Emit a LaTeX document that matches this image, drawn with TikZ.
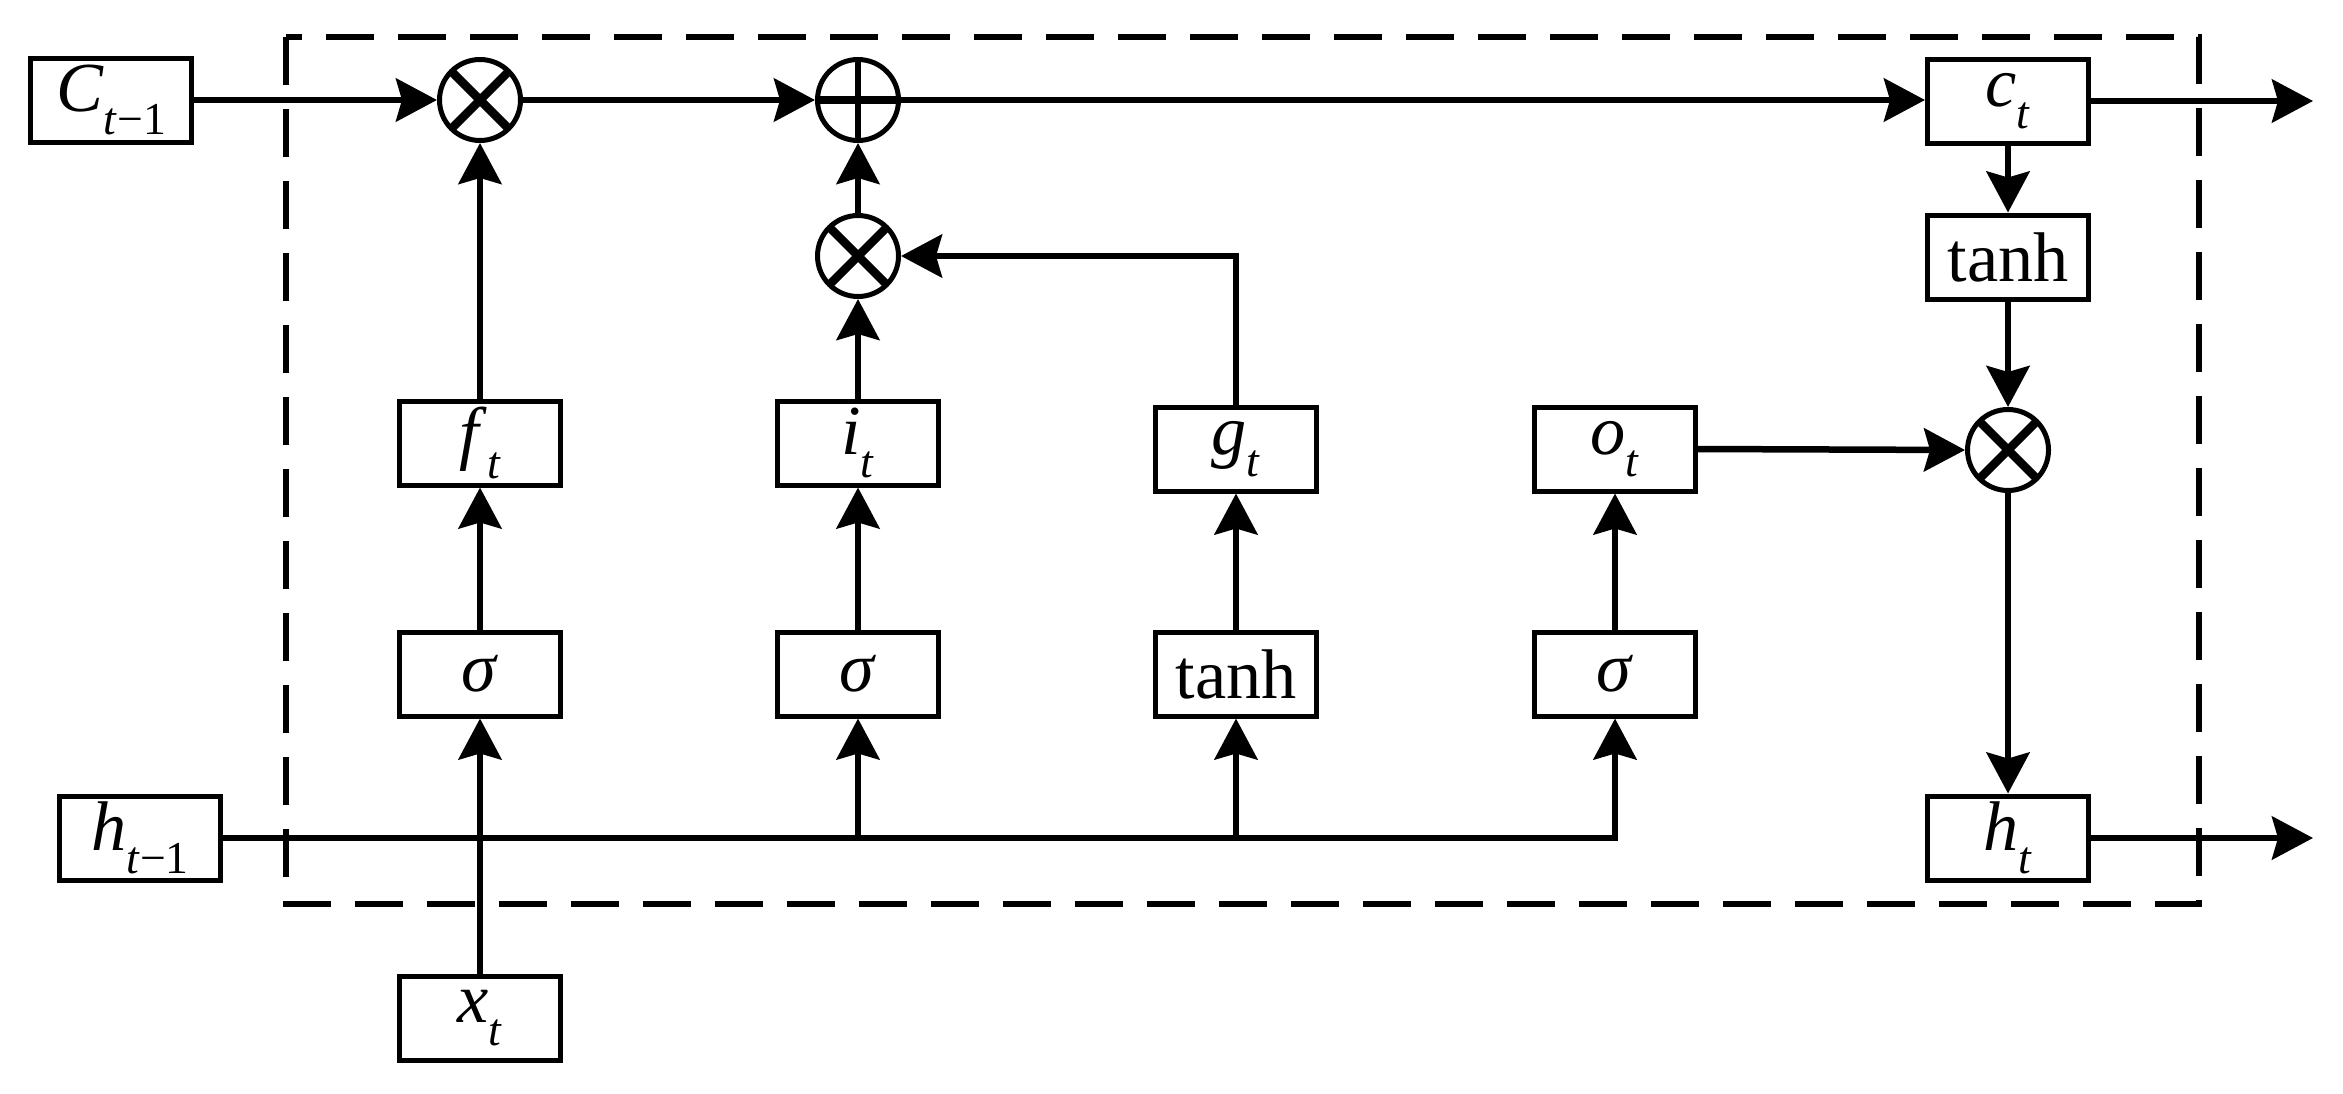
\documentclass[tikz,border=0pt]{standalone}
\usepackage{fontspec}
\setmainfont{Liberation Serif}
\usetikzlibrary{arrows.meta}
\newcommand{\lbl}[2]{\textit{#1}\raisebox{-0.32em}{\fontsize{13}{13}\selectfont #2}}
\begin{document}
\begin{tikzpicture}[x=0.1mm,y=-0.1mm,
  box/.style={draw,line width=0.5mm,minimum width=16.1mm,minimum height=8.4mm,inner sep=0pt,font=\fontsize{20}{24}\selectfont},
  opnode/.style={draw,circle,line width=0.5mm,minimum size=8.1mm,inner sep=0pt},
  otimesnode/.style={opnode,path picture={
      \draw[line width=0.85mm] (path picture bounding box.south west) -- (path picture bounding box.north east);
      \draw[line width=0.85mm] (path picture bounding box.north west) -- (path picture bounding box.south east);}},
  oplusnode/.style={opnode,path picture={
      \draw[line width=0.85mm] (path picture bounding box.west) -- (path picture bounding box.east);
      \draw[line width=0.65mm] (path picture bounding box.north) -- (path picture bounding box.south);}},
  conn/.style={line width=0.65mm,-{Stealth[length=4.1mm,width=4.3mm,inset=0.6mm]}},
  border/.style={line width=0.65mm,dash pattern=on 4.8mm off 2.4mm}
]
\useasboundingbox (0,0) rectangle (2343,1093);
\draw[border] (286,37) rectangle (2199,904);

% nodes
\node[box] (C) at (111,100) {\lbl{C}{\textit{t}−1}};
\node[otimesnode] (m1) at (480,100) {};
\node[oplusnode] (pl) at (858,100) {};
\node[otimesnode] (m2) at (858,256) {};
\node[box] (f) at (480,443) {\lbl{f}{\textit{t}}};
\node[box] (i) at (858,443) {\lbl{i}{\textit{t}}};
\node[box] (g) at (1236,449) {\lbl{g}{\textit{t}}};
\node[box] (o) at (1615,449) {\lbl{o}{\textit{t}}};
\node[box] (sf) at (480,674) {\textit{σ}};
\node[box] (si) at (858,674) {\textit{σ}};
\node[box] (tg) at (1236,674) {tanh};
\node[box] (so) at (1615,674) {\textit{σ}};
\node[box] (x) at (480,1018) {\lbl{x}{\textit{t}}};
\node[box] (hp) at (140,838) {\lbl{h}{\textit{t}−1}};
\node[box] (c) at (2008,101) {\lbl{c}{\textit{t}}};
\node[box] (th) at (2008,257) {tanh};
\node[otimesnode] (m3) at (2008,450) {};
\node[box] (h) at (2008,838) {\lbl{h}{\textit{t}}};
\coordinate (cout) at (2313,101);
\coordinate (hout) at (2313,838);

% connectors
\draw[conn] (C.east) -- (m1.west);
\draw[conn] (m1.east) -- (pl.west);
\draw[conn] (pl.east) -- (pl.east -| c.west);
\draw[conn] (c.east) -- (cout);
\draw[conn] (c.south) -- (th.north);
\draw[conn] (th.south) -- (m3.north);
\draw[conn] (o.east) -- (m3.west);
\draw[conn] (m3.south) -- (h.north);
\draw[conn] (h.east) -- (hout);
\draw[conn] (f.north) -- (m1.south);
\draw[conn] (sf.north) -- (f.south);
\draw[conn] (i.north) -- (m2.south);
\draw[conn] (m2.north) -- (pl.south);
\draw[conn] (si.north) -- (i.south);
\draw[conn] (g.north) -- (g.north |- m2.east) -- (m2.east);
\draw[conn] (tg.north) -- (g.south);
\draw[conn] (so.north) -- (o.south);
\draw[conn] (x.north) -- (sf.south);
\draw[conn] (hp.east) -- (so.south |- hp.east) -- (so.south);
\draw[conn] (si.south |- hp.east) -- (si.south);
\draw[conn] (tg.south |- hp.east) -- (tg.south);
\end{tikzpicture}
\end{document}
